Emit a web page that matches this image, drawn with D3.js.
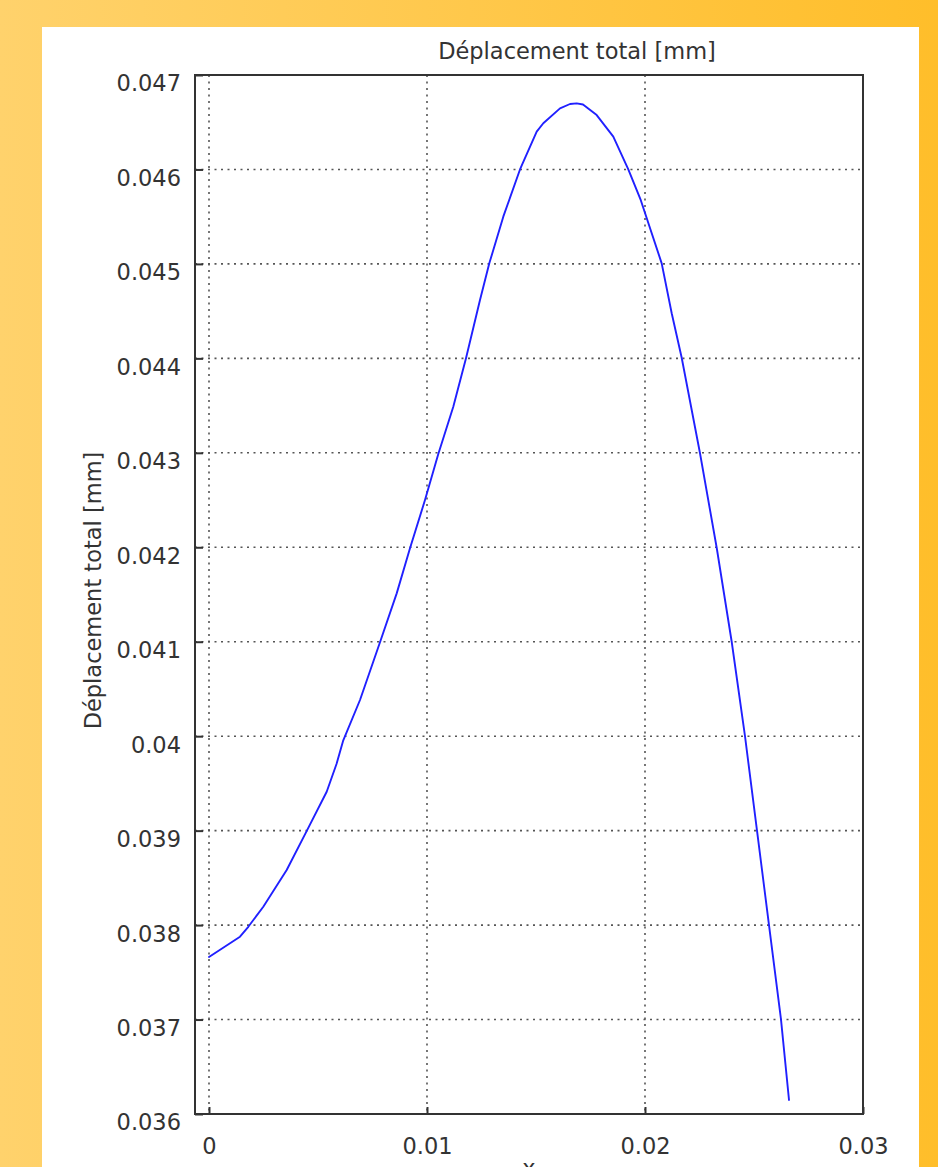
<!DOCTYPE html>
<html>
<head>
<meta charset="utf-8">
<script src="https://cdn.jsdelivr.net/npm/d3@7"></script>
<style>
  html, body { margin: 0; padding: 0; }
  body { width: 938px; height: 1167px; overflow: hidden; }
  svg { display: block; }
  text { font-family: "DejaVu Sans", Verdana, sans-serif; fill: #333; }
</style>
</head>
<body>
<svg id="chart" width="938" height="1167"></svg>
<script>
// Total displacement along the line (x in m, displacement in mm)
const arcX = [0, 0.001422, 0.001803, 0.002491, 0.003564, 0.00445, 0.005399, 0.005849, 0.00615,
  0.006927, 0.007844, 0.00861, 0.00922, 0.009908, 0.010518, 0.011206, 0.011789, 0.012431,
  0.012858, 0.0135, 0.014266, 0.015032, 0.015335, 0.016101, 0.01656, 0.016867, 0.017156,
  0.017784, 0.018546, 0.019234, 0.019803, 0.020766, 0.021225, 0.021683, 0.022523, 0.023289,
  0.023977, 0.024587, 0.025138, 0.025688, 0.026239, 0.026606];
const displacement = [0.037662, 0.037877, 0.037982, 0.038194, 0.038583, 0.038982, 0.039412,
  0.039705, 0.03995, 0.040383, 0.040994, 0.041512, 0.041989, 0.0425, 0.042987, 0.043488,
  0.044, 0.044618, 0.045006, 0.0455, 0.046, 0.0464, 0.046489, 0.046647, 0.046693, 0.0467,
  0.046688, 0.046576, 0.046347, 0.046, 0.045677, 0.045006, 0.044477, 0.044007, 0.042995,
  0.041995, 0.041, 0.040, 0.039, 0.038, 0.037, 0.036148];

const xTicks = [0, 0.01, 0.02, 0.03];
const xTickLabels = ["0", "0.01", "0.02", "0.03"];
const yTicks = [0.036, 0.037, 0.038, 0.039, 0.040, 0.041, 0.042, 0.043, 0.044, 0.045, 0.046, 0.047];
const yTickLabels = ["0.036", "0.037", "0.038", "0.039", "0.04", "0.041", "0.042", "0.043",
  "0.044", "0.045", "0.046", "0.047"];
const xDomain = [-0.000642, 0.03];
const yDomain = [0.036, 0.047];

const titleText = "Déplacement total [mm]";
const yLabelText = "Déplacement total [mm]";
const xLabelText = "x";

const W = 938, H = 1167;
const plot = { left: 195, right: 863, top: 75, bottom: 1114 };
const fontSize = 22.5;

const svg = d3.select("#chart");

// Orange backdrop
const defs = svg.append("defs");
const grad = defs.append("linearGradient").attr("id", "bg")
  .attr("x1", "0").attr("y1", "0").attr("x2", "1").attr("y2", "0");
grad.append("stop").attr("offset", "0%").attr("stop-color", "#ffd26c");
grad.append("stop").attr("offset", "100%").attr("stop-color", "#ffbe2a");
svg.append("rect").attr("width", W).attr("height", H).attr("fill", "url(#bg)");

// White panel
svg.append("rect").attr("x", 42).attr("y", 27).attr("width", 877).attr("height", H - 27)
  .attr("fill", "#fff");

const x = d3.scaleLinear().domain(xDomain).range([plot.left, plot.right]);
const y = d3.scaleLinear().domain(yDomain).range([plot.bottom, plot.top]);

// Dotted grid
const grid = svg.append("g").attr("stroke", "#555").attr("stroke-width", 1.6)
  .attr("stroke-dasharray", "2,4.5");
grid.selectAll("line.v").data(xTicks.filter(v => v < xDomain[1])).join("line")
  .attr("class", "v")
  .attr("x1", d => x(d)).attr("x2", d => x(d))
  .attr("y1", plot.top).attr("y2", plot.bottom);
grid.selectAll("line.h").data(yTicks.filter(v => v > yDomain[0] && v < yDomain[1])).join("line")
  .attr("class", "h")
  .attr("x1", plot.left).attr("x2", plot.right)
  .attr("y1", d => y(d)).attr("y2", d => y(d));

// Axes with inward ticks
const yAxis = d3.axisLeft(y)
  .tickValues(yTicks)
  .tickFormat((d, i) => yTickLabels[i])
  .tickSize(-8)
  .tickPadding(14);
const gy = svg.append("g").attr("transform", `translate(${plot.left},0)`).call(yAxis);
gy.select(".domain").remove();
gy.selectAll("line").attr("stroke", "#333").attr("stroke-width", 2);
gy.selectAll("text").attr("dy", "0.71em").attr("fill", "#333")
  .style("font-size", fontSize + "px").style("font-family", "DejaVu Sans");

const xAxis = d3.axisBottom(x)
  .tickValues(xTicks)
  .tickFormat((d, i) => xTickLabels[i])
  .tickSize(-7)
  .tickPadding(24);
const gx = svg.append("g").attr("transform", `translate(0,${plot.bottom})`).call(xAxis);
gx.select(".domain").remove();
gx.selectAll("line").attr("stroke", "#333").attr("stroke-width", 2);
gx.selectAll("text").attr("fill", "#333")
  .style("font-size", fontSize + "px").style("font-family", "DejaVu Sans");

// Data line
const pts = arcX.map((v, i) => [v, displacement[i]]);
svg.append("path").datum(pts)
  .attr("fill", "none").attr("stroke", "#2020ff").attr("stroke-width", 1.9)
  .attr("stroke-linejoin", "round").attr("stroke-linecap", "round")
  .attr("d", d3.line().x(d => x(d[0])).y(d => y(d[1])));

// Frame
svg.append("rect")
  .attr("x", plot.left).attr("y", plot.top)
  .attr("width", plot.right - plot.left).attr("height", plot.bottom - plot.top)
  .attr("fill", "none").attr("stroke", "#333").attr("stroke-width", 2);

// Titles
svg.append("text").attr("x", 577).attr("y", 59).attr("text-anchor", "middle")
  .style("font-size", fontSize + "px").text(titleText);
svg.append("text")
  .attr("transform", `translate(101,${(plot.top + plot.bottom) / 2 - 4}) rotate(-90)`)
  .attr("text-anchor", "middle")
  .style("font-size", fontSize + "px").text(yLabelText);
svg.append("text").attr("x", (plot.left + plot.right) / 2).attr("y", 1176)
  .attr("text-anchor", "middle")
  .style("font-size", fontSize + "px").text(xLabelText);
</script>
</body>
</html>
